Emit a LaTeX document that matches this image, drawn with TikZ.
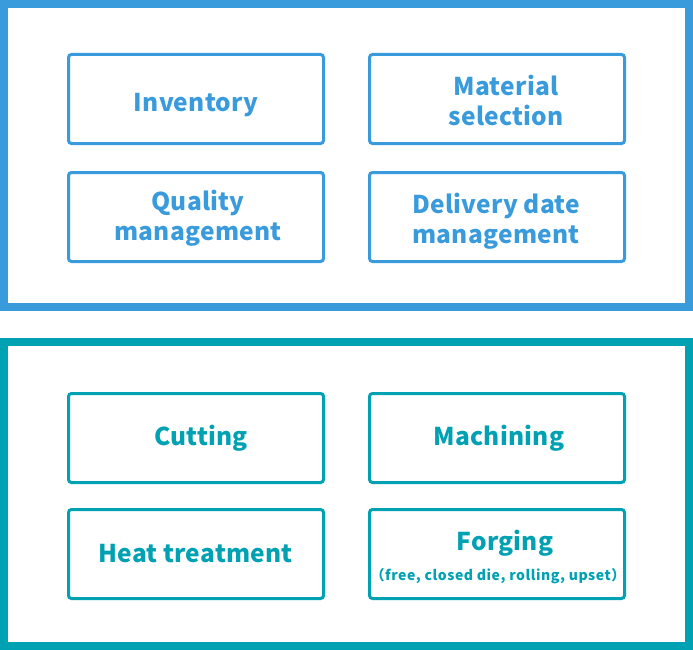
\documentclass[tikz,border=0pt]{standalone}
\usepackage{fontspec}
\newfontfamily\boxfont{Noto Sans CJK JP}[LetterSpace=1]
\newfontfamily\subfont{Noto Sans CJK JP}[LetterSpace=4]
\definecolor{planblue}{RGB}{58,155,220}
\definecolor{shopteal}{RGB}{0,161,178}
\tikzset{
  outerframe/.style={line width=8pt},
  itembox/.style={line width=3pt, rounded corners=3pt},
  itemtext/.style={font=\boxfont\bfseries\fontsize{24.5}{30}\selectfont, align=center, anchor=base, inner sep=0pt},
  subtext/.style={font=\subfont\bfseries\fontsize{14}{16}\selectfont, anchor=base, inner sep=0pt},
}
\begin{document}
\begin{tikzpicture}[x=1pt, y=-1pt]
\useasboundingbox (0,0) rectangle (693,650);

% Upper frame: planning
\draw[outerframe, planblue] (4,4) rectangle (689,307);
\draw[itembox, planblue] (68.5,54.5) rectangle +(255,89);
\node[itemtext, planblue] (inventory) at (196,112) {Inventory};
\draw[itembox, planblue] (369.5,54.5) rectangle +(255,89);
\node[itemtext, planblue] (material) at (506,125) {Material\\selection};
\draw[itembox, planblue] (68.5,172.5) rectangle +(255,89);
\node[itemtext, planblue] (quality) at (198,240.7) {Quality\\management};
\draw[itembox, planblue] (369.5,172.5) rectangle +(255,89);
\node[itemtext, planblue] (delivery) at (496,243) {Delivery date\\management};

% Lower frame: processing
\draw[outerframe, shopteal] (4,342) rectangle (689,646);
\draw[itembox, shopteal] (68.5,393.5) rectangle +(255,89);
\node[itemtext, shopteal] (cutting) at (201,445.7) {Cutting};
\draw[itembox, shopteal] (369.5,393.5) rectangle +(255,89);
\node[itemtext, shopteal] (machining) at (499,445) {Machining};
\draw[itembox, shopteal] (68.5,509.5) rectangle +(255,89);
\node[itemtext, shopteal] (heat) at (195.5,562.7) {Heat treatment};
\draw[itembox, shopteal] (369.5,509.5) rectangle +(255,89);
\node[itemtext, shopteal] (forging) at (505,550.7) {Forging};
\node[subtext, shopteal] (forgingkinds) at (498,580) {（free, closed die, rolling, upset）};
\end{tikzpicture}
\end{document}
